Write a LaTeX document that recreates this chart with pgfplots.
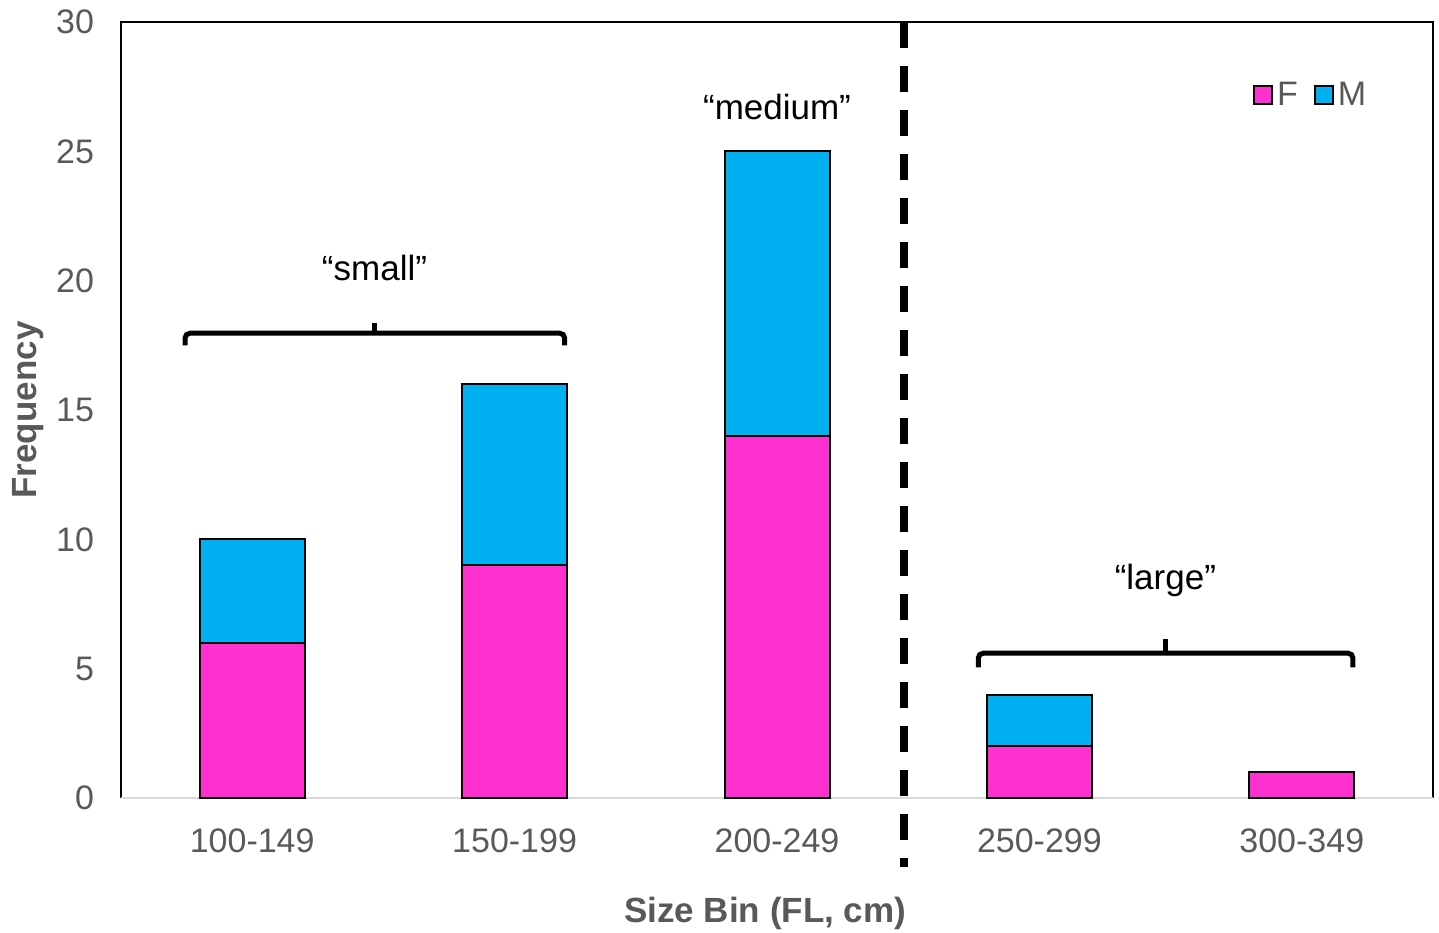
\documentclass[border=0pt]{standalone}
\usepackage{pgfplots}
\pgfplotsset{compat=1.18}
\usepackage{fontspec}
\setmainfont{Liberation Sans}
\definecolor{fcol}{HTML}{FF2FD0}
\definecolor{mcol}{HTML}{00B0F0}
\definecolor{txtgray}{HTML}{595959}
\definecolor{axgray}{HTML}{D9D9D9}
\begin{document}
\begin{tikzpicture}
\useasboundingbox (-60.5pt,-67pt) rectangle (659pt,399pt);
\begin{axis}[
  scale only axis,
  width=656pt, height=388pt,
  ybar stacked,
  bar width=52.5pt,
  xmin=-0.5, xmax=4.5,
  ymin=0, ymax=30,
  ytick={0,5,...,30},
  xtick={0,1,2,3,4},
  xticklabels={100-149,150-199,200-249,250-299,300-349},
  major tick length=0pt,
  axis line style={draw=none},
  clip=false,
  tick label style={text=txtgray, font=\fontsize{17}{20}\selectfont},
  /pgf/number format/assume math mode=true,
  yticklabel style={xshift=-10pt},
  xticklabel style={yshift=-12pt},
  xlabel={\textbf{Size Bin (FL, cm)}},
  ylabel={\textbf{Frequency}},
  label style={text=txtgray, font=\fontsize{17.5}{20}\selectfont},
  xlabel style={at={(axis description cs:0.491,-0.149)}, anchor=center},
  ylabel style={at={(axis description cs:-0.0709,0.5)}, anchor=center},
  legend style={at={(rel axis cs:0.957,0.906)}, anchor=east, draw=none, fill=none,
    legend columns=2, font=\fontsize{17}{20}\selectfont, text=txtgray,
    /tikz/every even column/.append style={column sep=6pt}},
  legend image code/.code={\draw[#1, line width=1pt] (0pt,-4.5pt) rectangle (9pt,4.5pt);},
]
\addplot[fill=fcol, draw=black, line width=1pt] coordinates {(0,6) (1,9) (2,14) (3,2) (4,1)};
\addplot[fill=mcol, draw=black, line width=1pt] coordinates {(0,4) (1,7) (2,11) (3,2) (4,0)};
\legend{F,M}
\draw[axgray, line width=1pt] (rel axis cs:0,0) -- (rel axis cs:1,0);
\draw[black, line width=1pt] (rel axis cs:0,0) -- (rel axis cs:0,1) -- (rel axis cs:1,1) -- (rel axis cs:1,0);
\draw[black, line width=4pt, dash pattern=on 13pt off 9pt] (axis cs:2.485,30) -- (axis cs:2.485,-2.67);
% small brace
\draw[black, line width=2.5pt, rounded corners=2.5pt] (axis cs:-0.256,17.5) -- (axis cs:-0.256,17.97) -- (axis cs:1.191,17.97) -- (axis cs:1.191,17.5);
\draw[black, line width=2.5pt] (axis cs:0.466,17.97) -- (axis cs:0.466,18.35);
% large brace
\draw[black, line width=2.5pt, rounded corners=2.5pt] (axis cs:2.767,5.05) -- (axis cs:2.767,5.6) -- (axis cs:4.195,5.6) -- (axis cs:4.195,5.05);
\draw[black, line width=2.5pt] (axis cs:3.48,5.6) -- (axis cs:3.48,6.15);
\node[font=\fontsize{17.5}{20}\selectfont] at (axis cs:0.466,20.5) {“small”};
\node[font=\fontsize{17.5}{20}\selectfont] at (axis cs:2,26.7) {“medium”};
\node[font=\fontsize{17.5}{20}\selectfont] at (axis cs:3.48,8.4) {“large”};
\end{axis}
\end{tikzpicture}
\end{document}
